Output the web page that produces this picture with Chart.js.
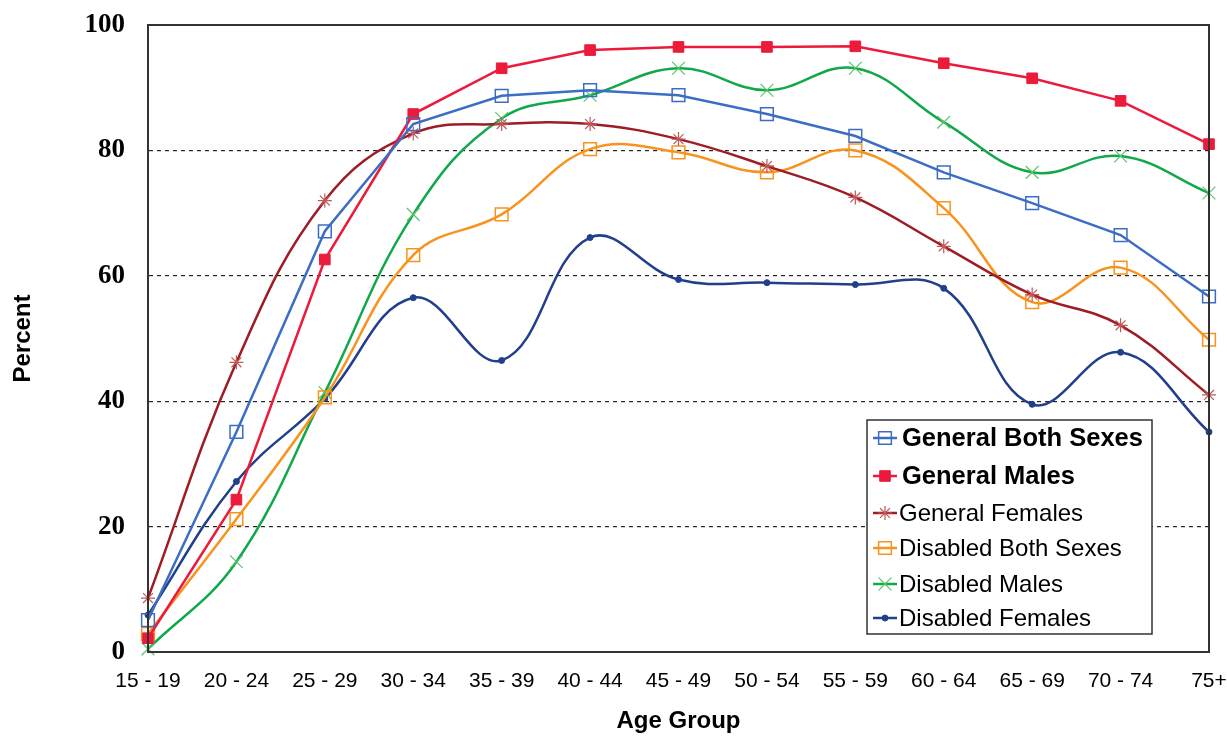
<!DOCTYPE html>
<html>
<head>
<meta charset="utf-8">
<script src="https://cdn.jsdelivr.net/npm/chart.js@4.4.1/dist/chart.umd.min.js"></script>
<style>
    html, body { margin: 0; padding: 0; background: #fff; }
    #wrap { width: 1227px; height: 738px; position: relative; }
</style>
</head>
<body>
<div id="wrap"><canvas id="chart"></canvas></div>
<script>
// Age groups on the x axis
const ageGroups = ["15 - 19", "20 - 24", "25 - 29", "30 - 34", "35 - 39", "40 - 44", "45 - 49",
    "50 - 54", "55 - 59", "60 - 64", "65 - 69", "70 - 74", "75+"];

// Percent values
const generalBoth     = [5.1, 35.1, 67.1, 84.2, 88.7, 89.6, 88.8, 85.8, 82.3, 76.5, 71.6, 66.5, 56.7];
const generalMales    = [2.2, 24.3, 62.6, 85.8, 93.1, 96.0, 96.5, 96.5, 96.6, 93.9, 91.5, 87.9, 81.0];
const generalFemales  = [8.6, 46.2, 72.0, 82.7, 84.2, 84.2, 81.8, 77.5, 72.5, 64.7, 57.0, 52.1, 41.0];
const disabledBoth    = [2.9, 21.2, 40.6, 63.3, 69.8, 80.2, 79.7, 76.5, 80.0, 70.8, 55.8, 61.3, 49.8];
const disabledMales   = [0.5, 14.4, 41.4, 69.8, 85.1, 88.8, 93.1, 89.6, 93.1, 84.5, 76.5, 79.1, 73.2];
const disabledFemales = [5.9, 27.2, 40.4, 56.5, 46.5, 66.1, 59.4, 58.9, 58.6, 58.0, 39.5, 47.8, 35.1];

const yTicks = [0, 20, 40, 60, 80, 100];

// helper for a dataset
function series(label, data, color, marker) {
    return Object.assign({
        label: label,
        data: data,
        borderColor: color,
        borderWidth: 2.5,
        tension: 0.4,
        clip: false,
        pointHoverRadius: 0,
    }, marker);
}

const datasets = [
    series("General Both Sexes", generalBoth, "#3C6DC5", {
        tension: 0, pointStyle: "rect", pointRadius: 9, pointBorderWidth: 1.5,
        pointBorderColor: "#3C6DC5", pointBackgroundColor: "rgba(0,0,0,0)", boldLegend: true }),
    series("General Males", generalMales, "#EC1B3B", {
        tension: 0, pointStyle: "rect", pointRadius: 7.5, pointBorderWidth: 1,
        pointBorderColor: "#EC1B3B", pointBackgroundColor: "#EC1B3B", boldLegend: true }),
    series("General Females", generalFemales, "#9E1C24", {
        pointStyle: "star", pointRadius: 7, pointBorderWidth: 1.2,
        pointBorderColor: "#C0585A", pointBackgroundColor: "#C0585A" }),
    series("Disabled Both Sexes", disabledBoth, "#F7931E", {
        pointStyle: "rect", pointRadius: 9, pointBorderWidth: 1.5,
        pointBorderColor: "#F7931E", pointBackgroundColor: "rgba(0,0,0,0)" }),
    series("Disabled Males", disabledMales, "#10A84A", {
        pointStyle: "crossRot", pointRadius: 9, pointBorderWidth: 1.2,
        pointBorderColor: "#5CC46C", pointBackgroundColor: "#5CC46C" }),
    series("Disabled Females", disabledFemales, "#223F8C", {
        pointStyle: "circle", pointRadius: 3, pointBorderWidth: 1,
        pointBorderColor: "#223F8C", pointBackgroundColor: "#223F8C" }),
];

// small marker drawer for the legend
function drawMarker(ctx, ds, x, y) {
    const r = ds.pointRadius;
    ctx.save();
    ctx.strokeStyle = ds.pointBorderColor;
    ctx.fillStyle = ds.pointBackgroundColor;
    ctx.lineWidth = ds.pointBorderWidth;
    ctx.beginPath();
    if (ds.pointStyle === "rect") {
        const s = Math.SQRT1_2 * r;
        ctx.rect(x - s, y - s, 2 * s, 2 * s);
        ctx.fill();
        ctx.stroke();
    } else if (ds.pointStyle === "circle") {
        ctx.arc(x, y, r, 0, Math.PI * 2);
        ctx.fill();
        ctx.stroke();
    } else {
        const d = Math.SQRT1_2 * r;
        ctx.moveTo(x - d, y - d); ctx.lineTo(x + d, y + d);
        ctx.moveTo(x - d, y + d); ctx.lineTo(x + d, y - d);
        if (ds.pointStyle === "star") {
            ctx.moveTo(x, y - r); ctx.lineTo(x, y + r);
            ctx.moveTo(x - r, y); ctx.lineTo(x + r, y);
        }
        ctx.stroke();
    }
    ctx.restore();
}

// frame round the plot area + legend box inside it
const framePlugin = {
    id: "frame",
    afterDatasetsDraw(chart) {
        const { ctx, chartArea } = chart;
        ctx.save();
        ctx.strokeStyle = "#333";
        ctx.lineWidth = 2;
        ctx.strokeRect(chartArea.left, chartArea.top, chartArea.right - chartArea.left, chartArea.bottom - chartArea.top);

        // legend
        const boxW = 285, boxH = 214;
        const bx = chartArea.right - 57 - boxW;
        const by = chartArea.bottom - 18 - boxH;
        ctx.fillStyle = "#fff";
        ctx.fillRect(bx, by, boxW, boxH);
        ctx.lineWidth = 1.5;
        ctx.strokeStyle = "#333";
        ctx.strokeRect(bx, by, boxW, boxH);

        const rows = [18, 56, 93, 128, 164, 198];
        chart.data.datasets.forEach((ds, i) => {
            const y = by + rows[i];
            const lx = bx + 6;
            ctx.strokeStyle = ds.borderColor;
            ctx.lineWidth = 2.5;
            ctx.beginPath();
            ctx.moveTo(lx, y);
            ctx.lineTo(lx + 24, y);
            ctx.stroke();
            drawMarker(ctx, ds, lx + 12, y);
            ctx.fillStyle = "#000";
            ctx.textBaseline = "middle";
            ctx.font = ds.boldLegend ? "bold 25.5px 'Liberation Sans', Arial, sans-serif"
                                     : "24px 'Liberation Sans', Arial, sans-serif";
            ctx.fillText(ds.label, lx + (ds.boldLegend ? 29 : 26), y + 1);
        });
        ctx.restore();
    }
};

const ctx = document.getElementById("chart").getContext("2d");
const chart = new Chart(ctx, {
    type: "line",
    data: { labels: ageGroups, datasets: datasets },
    plugins: [framePlugin],
    options: {
        responsive: true,
        maintainAspectRatio: false,
        animation: false,
        layout: { autoPadding: false, padding: { top: 25, right: 18, left: 0, bottom: 0 } },
        plugins: {
            legend: { display: false },
            tooltip: { enabled: false },
        },
        scales: {
            x: {
                offset: false,
                afterFit: (scale) => { scale.height = 86; },
                // invisible tick marks give the gap under the axis
                grid: { drawOnChartArea: false, drawTicks: true, tickLength: 17, tickColor: "rgba(0,0,0,0)" },
                border: { display: true, color: "#333", width: 2 },
                ticks: {
                    padding: 0,
                    maxRotation: 0,
                    autoSkip: false,
                    color: "#000",
                    font: { family: "'Liberation Sans', Arial, sans-serif", size: 21 },
                },
                title: {
                    display: true,
                    text: "Age Group",
                    color: "#000",
                    padding: { top: 0, bottom: 2 },
                    font: { family: "'Liberation Sans', Arial, sans-serif", size: 24, weight: "bold" },
                },
            },
            y: {
                min: 0,
                max: 100,
                afterFit: (scale) => { scale.width = 148; },
                afterBuildTicks: (scale) => { scale.ticks = yTicks.map(v => ({ value: v })); },
                grid: {
                    drawTicks: true,
                    tickLength: 23,
                    tickColor: "rgba(0,0,0,0)",
                    color: (c) => (c.tick && (c.tick.value === 0 || c.tick.value === 100)) ? "rgba(0,0,0,0)" : "#222",
                    lineWidth: 1.2,
                },
                // in v4 the dash of the gridlines lives on border
                border: { display: true, color: "#333", width: 2, dash: [4, 4] },
                ticks: {
                    padding: 0,
                    color: "#000",
                    font: { family: "'Liberation Serif', 'Times New Roman', serif", size: 27, weight: "bold" },
                },
                title: {
                    display: true,
                    text: "Percent",
                    color: "#000",
                    padding: { top: 9, bottom: 0 },
                    font: { family: "'Liberation Sans', Arial, sans-serif", size: 24, weight: "bold" },
                },
            },
        },
    },
});
</script>
</body>
</html>
